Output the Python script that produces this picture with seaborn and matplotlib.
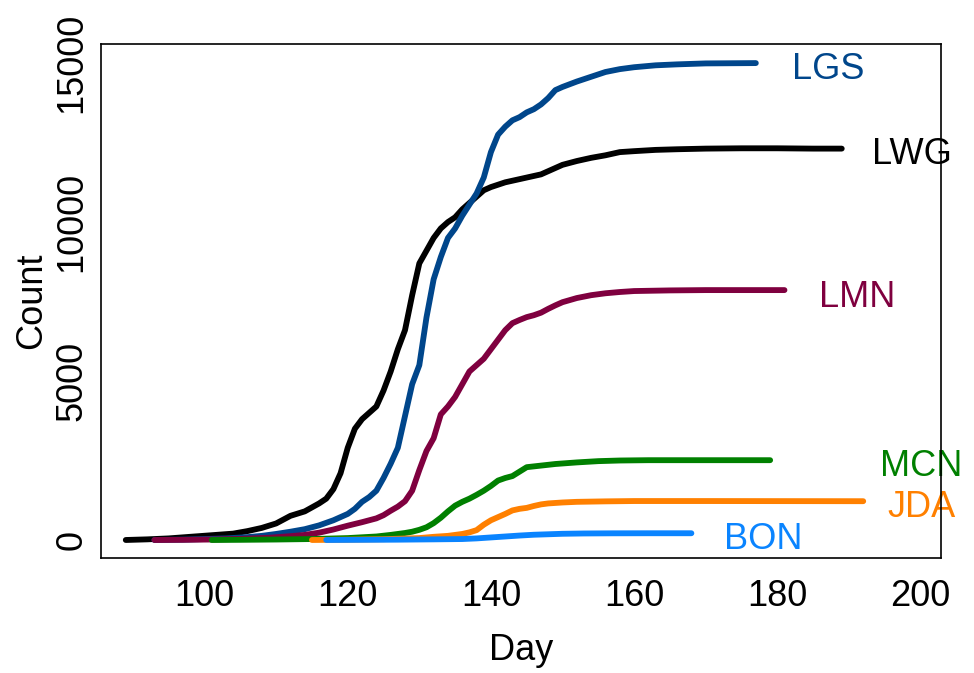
import numpy as np
import pandas as pd
import matplotlib
matplotlib.use("Agg")
import matplotlib.pyplot as plt
import seaborn as sns

# ---- data ----
sites = ["LWG", "LGS", "LMN", "MCN", "JDA", "BON"]
colors = ["#000000", "#00468B", "#7F003F", "#008000", "#FF8000", "#0A84FF"]

lwg_day = [89, 92, 95, 98, 101, 104, 106, 108, 110, 112, 114, 116, 117, 118, 119, 120, 121, 122, 123, 124,
           125, 126, 127, 128, 129, 130, 131, 132, 133, 134, 135, 136, 137, 138, 139, 140, 142, 144, 146, 147,
           148, 149, 150, 152, 154, 156, 158, 160, 163, 166, 170, 175, 180, 185, 189]
lwg_cnt = [0, 20, 50, 100, 150, 200, 280, 380, 520, 760, 900, 1150, 1300, 1600, 2100, 2900, 3500, 3800, 4000, 4200,
           4700, 5300, 6000, 6600, 7700, 8700, 9100, 9500, 9800, 10000, 10150, 10400, 10600, 10800, 11000, 11100, 11250, 11350, 11450, 11500,
           11600, 11700, 11800, 11920, 12020, 12100, 12200, 12230, 12270, 12290, 12310, 12320, 12320, 12310, 12310]

lgs_day = [93, 97, 100, 103, 106, 108, 110, 112, 114, 116, 118, 120, 121, 122, 123, 124, 125, 126, 127, 128,
           129, 130, 131, 132, 133, 134, 135, 136, 137, 138, 139, 140, 141, 142, 143, 144, 145, 146, 147, 148,
           149, 150, 152, 154, 156, 158, 160, 163, 166, 170, 177]
lgs_cnt = [0, 10, 30, 50, 90, 130, 190, 260, 340, 460, 620, 820, 980, 1200, 1350, 1550, 1950, 2400, 2900, 3900,
           4900, 5500, 7000, 8200, 8900, 9500, 9800, 10200, 10550, 10900, 11400, 12200, 12750, 13000, 13200, 13300, 13450, 13550, 13700, 13900,
           14150, 14250, 14420, 14570, 14720, 14810, 14870, 14930, 14960, 14990, 15000]

lmn_day = [93, 97, 101, 105, 109, 112, 114, 116, 118, 120, 122, 124, 125, 126, 127, 128, 129, 130, 131, 132,
           133, 134, 135, 136, 137, 138, 139, 140, 141, 142, 143, 144, 145, 146, 147, 148, 149, 150, 152, 154,
           156, 158, 160, 165, 170, 181]
lmn_cnt = [0, 5, 15, 35, 70, 120, 160, 230, 330, 450, 560, 680, 780, 920, 1050, 1220, 1550, 2200, 2800, 3200,
           3950, 4200, 4500, 4900, 5300, 5500, 5700, 6000, 6300, 6600, 6820, 6920, 7010, 7070, 7150, 7270, 7380, 7480, 7610, 7700,
           7760, 7800, 7830, 7850, 7860, 7860]

mcn_day = [101, 105, 110, 115, 120, 124, 126, 128, 129, 130, 131, 132, 133, 134, 135, 136, 137, 138, 139, 140,
           141, 142, 143, 144, 145, 147, 149, 152, 155, 158, 162, 170, 179]
mcn_cnt = [0, 5, 15, 30, 60, 110, 160, 220, 260, 320, 400, 530, 700, 900, 1080, 1200, 1300, 1420, 1550, 1700,
           1870, 1950, 2010, 2150, 2290, 2340, 2390, 2440, 2480, 2500, 2510, 2510, 2510]

jda_day = [115, 120, 125, 130, 132, 134, 136, 137, 138, 139, 140, 141, 142, 143, 144, 145, 146, 147, 148, 150,
           152, 156, 160, 170, 192]
jda_cnt = [0, 10, 25, 60, 100, 130, 190, 240, 310, 480, 620, 720, 820, 930, 980, 1010, 1070, 1120, 1150, 1180,
           1200, 1215, 1225, 1225, 1220]

bon_day = [117, 122, 127, 132, 136, 138, 140, 142, 144, 146, 148, 150, 153, 157, 162, 168]
bon_cnt = [0, 5, 10, 20, 30, 50, 80, 110, 140, 165, 180, 195, 205, 210, 212, 212]

# label positions (day, count)
label_day = [198.8, 187.1, 191.1, 200.1, 200.1, 178.1]
label_cnt = [12110, 14810, 7640, 2300, 1010, 30]

x_ticks = [100, 120, 140, 160, 180, 200]
y_ticks = [0, 5000, 10000, 15000]

# ---- build long-form table ----
days = [lwg_day, lgs_day, lmn_day, mcn_day, jda_day, bon_day]
cnts = [lwg_cnt, lgs_cnt, lmn_cnt, mcn_cnt, jda_cnt, bon_cnt]
frames = []
for s, d, c in zip(sites, days, cnts):
    frames.append(pd.DataFrame({"Day": d, "Count": c, "site": s}))
df = pd.concat(frames, ignore_index=True)

sns.set_style("white")
plt.rcParams["font.family"] = ["Liberation Sans", "DejaVu Sans"]

fig = plt.figure(figsize=(9.74, 6.73), dpi=100)
ax = fig.add_axes([0.1034, 0.1709, 0.9664 - 0.1034, 0.9346 - 0.1709])

sns.lineplot(data=df, x="Day", y="Count", hue="site", hue_order=sites,
             palette=dict(zip(sites, colors)), linewidth=4.2, legend=False,
             estimator=None, sort=False, ax=ax)

FS = 26
for s, c, lx, ly in zip(sites, colors, label_day, label_cnt):
    ax.text(lx, ly, s, color=c, fontsize=FS, ha="center", va="center", zorder=2)

ax.set_xlim(85.5, 202.9)
ax.set_ylim(-566, 15600)
ax.set_xticks(x_ticks)
ax.set_yticks(y_ticks)
ax.set_yticklabels([str(v) for v in y_ticks], rotation=90, va="center")
ax.tick_params(axis="both", direction="out", length=7, width=1.2, color="black",
               labelsize=FS, labelcolor="black")
ax.tick_params(axis="x", pad=8)
ax.tick_params(axis="y", pad=1)
ax.set_xlabel("Day", fontsize=FS, color="black", labelpad=14)
ax.set_ylabel("Count", fontsize=FS, color="black", labelpad=4)
for sp in ax.spines.values():
    sp.set_visible(True)
    sp.set_color("black")
    sp.set_linewidth(1.2)
    sp.set_zorder(5)

fig.savefig("out.png", dpi=100)
